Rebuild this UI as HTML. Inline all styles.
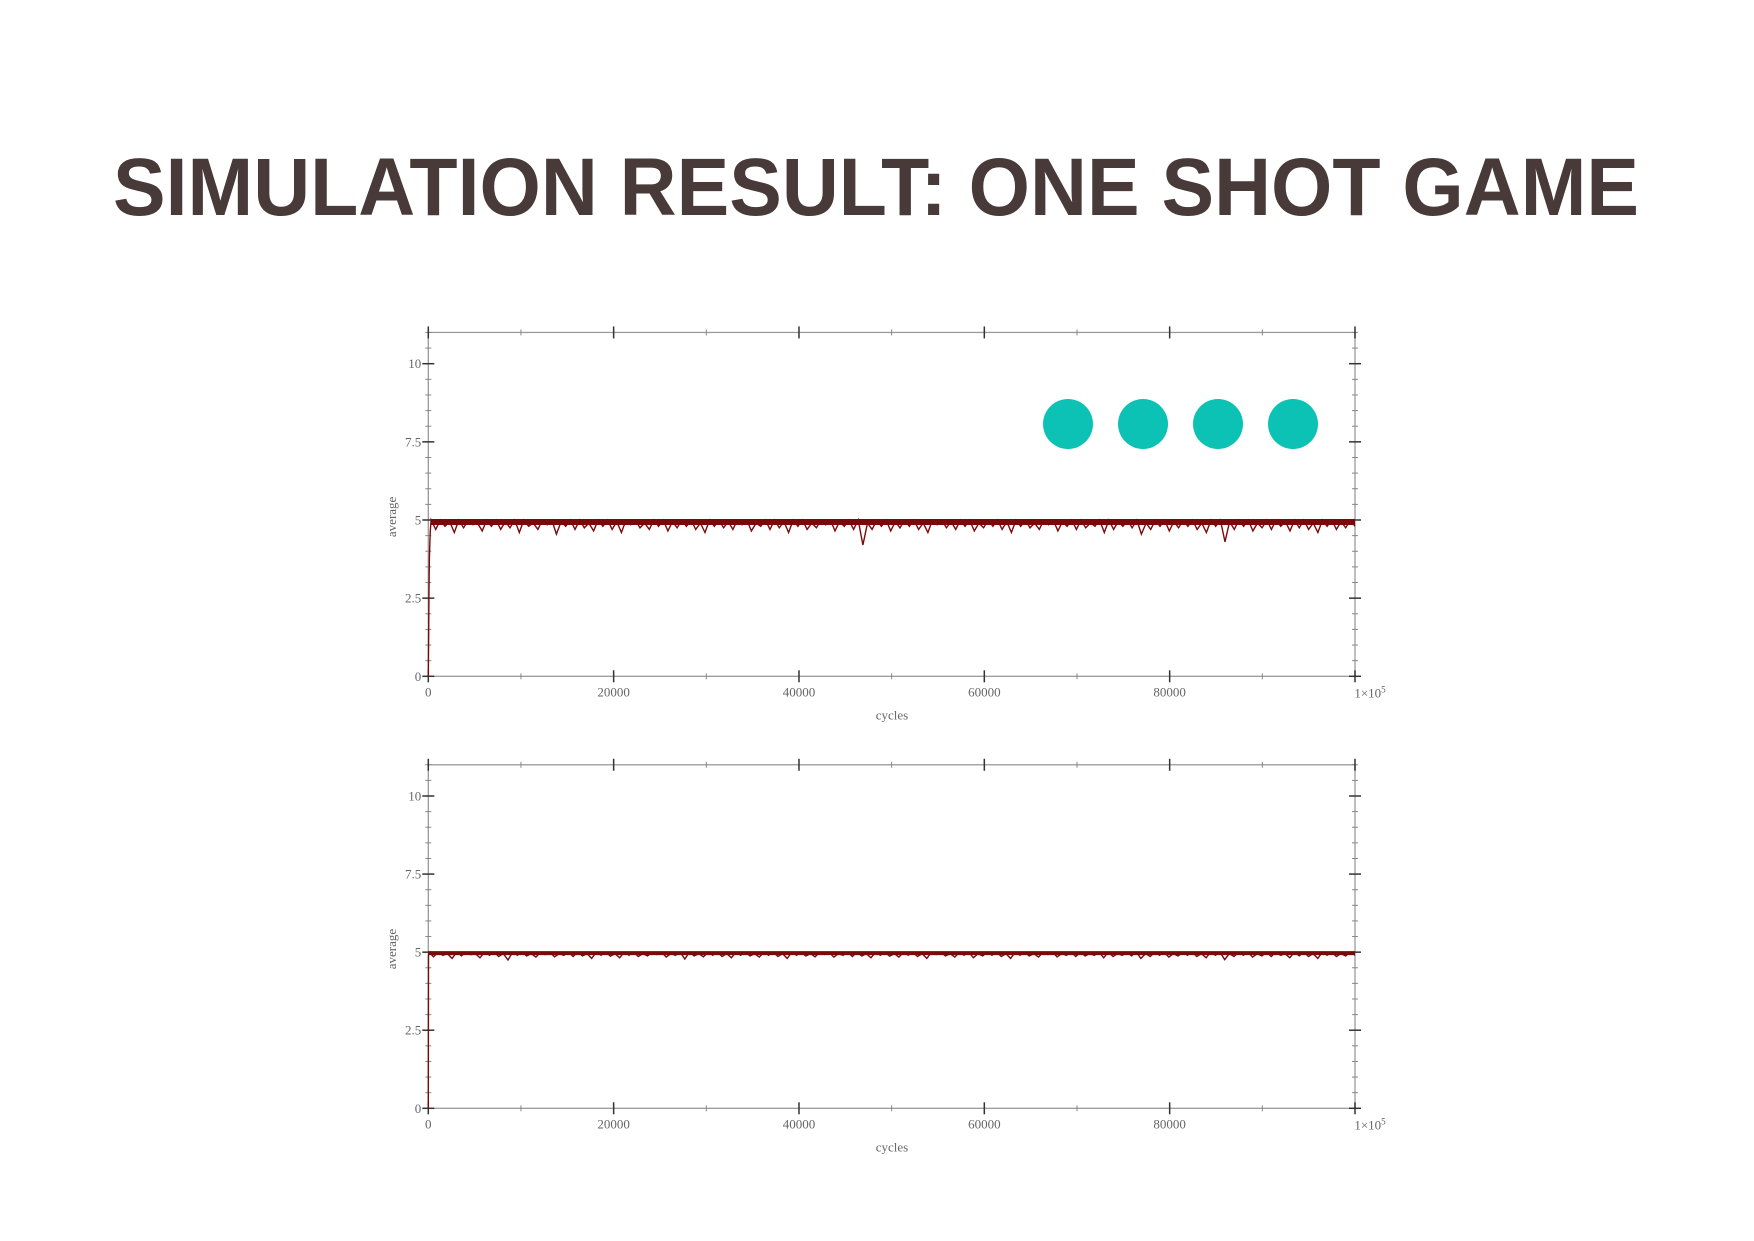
<!DOCTYPE html>
<html><head><meta charset="utf-8"><style>
html,body{margin:0;padding:0;background:#fff;}
svg{display:block;}
</style></head><body>
<svg id="root" width="1754" height="1241" viewBox="0 0 1754 1241" xmlns="http://www.w3.org/2000/svg">
<text x="113" y="215" font-family="Liberation Sans, sans-serif" font-weight="bold" font-size="82" fill="#473a38" textLength="1526" lengthAdjust="spacingAndGlyphs">SIMULATION RESULT: ONE SHOT GAME</text>
<g>
<circle cx="1068" cy="424" r="25" fill="#0cc2b4"/>
<circle cx="1143" cy="424" r="25" fill="#0cc2b4"/>
<circle cx="1218" cy="424" r="25" fill="#0cc2b4"/>
<circle cx="1293" cy="424" r="25" fill="#0cc2b4"/>
</g>
</svg>
<script>
// ---- data ----
const xTickValues = [0, 20000, 40000, 60000, 80000];
const xTickLabels = ["0", "20000", "40000", "60000", "80000"];
const yTickValues = [0, 2.5, 5, 7.5, 10];
const yTickLabels = ["0", "2.5", "5", "7.5", "10"];
const sampleStep = 500;
const topEarlyCycles = [0, 40, 80, 120, 200, 300];
const topEarlyValues = [0, 1.5, 2.8, 3.8, 4.6, 5];
const topValues = [
5,4.7,5,4.8,4.95,4.6,5,4.75,5,4.85,4.9,4.65,5,4.8,5,4.7,4.95,4.75,5,4.6,
5,4.8,4.9,4.7,5,4.85,5,4.55,4.95,4.8,5,4.7,5,4.75,4.9,4.65,5,4.8,5,4.7,
4.95,4.6,5,4.85,5,4.75,4.9,4.7,5,4.8,5,4.65,4.95,4.75,5,4.8,5,4.7,4.9,4.6,
5,4.8,5,4.75,4.95,4.7,5,4.85,5,4.65,4.9,4.8,5,4.7,5,4.75,4.95,4.6,5,4.8,
5,4.7,4.9,4.75,5,4.85,5,4.65,4.95,4.8,5,4.7,5,4.2,4.9,4.7,5,4.8,5,4.65,
4.95,4.75,5,4.8,5,4.7,4.9,4.6,5,4.85,5,4.75,4.95,4.7,5,4.8,5,4.65,4.9,4.75,
5,4.8,5,4.7,4.95,4.6,5,4.8,5,4.75,4.9,4.7,5,4.85,5,4.65,4.95,4.8,5,4.7,
5,4.75,4.9,4.8,5,4.6,5,4.7,4.95,4.8,5,4.75,5,4.55,4.9,4.7,5,4.8,5,4.65,
4.95,4.75,5,4.8,5,4.7,4.9,4.6,5,4.8,5,4.3,4.95,4.7,5,4.8,5,4.65,4.9,4.75,
5,4.7,5,4.8,4.95,4.65,5,4.75,5,4.7,4.9,4.6,5,4.8,5,4.7,4.95,4.75,5,4.8];
const bottomEarlyCycles = [0, 20, 60];
const bottomEarlyValues = [0, 4.9, 5];
const bottomValues = [
5,4.85,5,4.9,4.95,4.8,5,4.88,5,4.92,4.95,4.82,5,4.9,5,4.86,4.95,4.75,5,4.9,
5,4.88,4.95,4.84,5,4.92,5,4.85,4.95,4.9,5,4.86,5,4.88,4.95,4.8,5,4.9,5,4.87,
4.95,4.82,5,4.9,5,4.86,4.95,4.88,5,4.92,5,4.84,4.95,4.9,5,4.78,5,4.88,4.95,4.85,
5,4.9,5,4.86,4.95,4.82,5,4.9,5,4.88,4.95,4.84,5,4.9,5,4.86,4.95,4.8,5,4.9,
5,4.88,4.95,4.85,5,4.92,5,4.84,4.95,4.9,5,4.86,5,4.88,4.95,4.82,5,4.9,5,4.87,
4.95,4.84,5,4.9,5,4.86,4.95,4.8,5,4.92,5,4.88,4.95,4.84,5,4.9,5,4.82,4.95,4.88,
5,4.9,5,4.86,4.95,4.8,5,4.9,5,4.88,4.95,4.84,5,4.92,5,4.85,4.95,4.9,5,4.86,
5,4.88,4.95,4.9,5,4.82,5,4.86,4.95,4.9,5,4.88,5,4.8,4.95,4.86,5,4.9,5,4.84,
4.95,4.88,5,4.9,5,4.86,4.95,4.82,5,4.9,5,4.76,4.95,4.86,5,4.9,5,4.84,4.95,4.88,
5,4.86,5,4.9,4.95,4.82,5,4.88,5,4.86,4.95,4.8,5,4.9,5,4.86,4.95,4.88,5,4.9];

const NS = "http://www.w3.org/2000/svg";
const root = document.getElementById('root');
function mk(tag, attrs, parent) {
  const e = document.createElementNS(NS, tag);
  for (const k in attrs) e.setAttribute(k, attrs[k]);
  parent.appendChild(e);
  return e;
}
function drawChart(name, y0px, y10px, earlyC, earlyV, vals, bandW) {
  const X0 = 428.3, X1 = 1355;
  const xS = c => X0 + (X1 - X0) * c / 100000;
  const yS = v => y0px + (y10px - y0px) * v / 10;
  const yTop = yS(11);
  const g = mk('g', {}, root);
  
  
  const frame = mk('rect', {x: X0, y: yTop, width: X1 - X0, height: y0px - yTop, fill: 'none', stroke: '#9a9a9a', 'stroke-width': 1.3}, g);
  
  
  for (let i = 0; i <= 22; i++) {
    const v = i * 0.5, y = yS(v);
    const major = (i % 5 === 0);
    const len = major ? 6 : 3;
    [X0, X1].forEach(x => {
      const t = mk('line', {x1: x - len, x2: x + len, y1: y, y2: y, stroke: major ? '#333' : '#888', 'stroke-width': major ? 1.5 : 1}, g);
      
      
    });
  }
  yTickValues.forEach((v, i) => {
    const t = mk('text', {x: X0 - 7, y: yS(v) + 4.5, 'text-anchor': 'end', 'font-family': 'Liberation Serif, serif', 'font-size': 13, fill: '#666'}, g);
    t.textContent = yTickLabels[i];
    
    
  });
  for (let c = 0; c <= 100000; c += 10000) {
    const major = (c % 20000 === 0) || c === 100000;
    const len = major ? 6 : 3;
    [y0px, yTop].forEach(y => {
      const t = mk('line', {x1: xS(c), x2: xS(c), y1: y - len, y2: y + len, stroke: major ? '#333' : '#888', 'stroke-width': major ? 1.5 : 1}, g);
      
      
    });
  }
  xTickValues.forEach((v, i) => {
    const t = mk('text', {x: xS(v), y: y0px + 20, 'text-anchor': 'middle', 'font-family': 'Liberation Serif, serif', 'font-size': 13, fill: '#666'}, g);
    t.textContent = xTickLabels[i];
    
    
  });
  const last = mk('text', {x: xS(100000) + 15, y: y0px + 21, 'text-anchor': 'middle', 'font-family': 'Liberation Serif, serif', 'font-size': 13, fill: '#666'}, g);
  last.innerHTML = '1×10<tspan dy="-5" font-size="9">5</tspan>';
  
  
  const xt = mk('text', {x: 892, y: y0px + 43, 'text-anchor': 'middle', 'font-family': 'Liberation Serif, serif', 'font-size': 13, fill: '#666'}, g);
  xt.textContent = 'cycles';
  
  
  const yc = yS(5.1);
  const yt = mk('text', {x: 396, y: yc, 'text-anchor': 'middle', 'font-family': 'Liberation Serif, serif', 'font-size': 13, fill: '#666', transform: 'rotate(-90 396 ' + yc + ')'}, g);
  yt.textContent = 'average';
  
  
  const pts = [];
  earlyC.forEach((c, i) => pts.push(xS(c).toFixed(1) + ',' + yS(earlyV[i]).toFixed(1)));
  const startC = earlyC[earlyC.length - 1];
  vals.forEach((v, i) => pts.push(xS(startC + i * (100000 - startC) / (vals.length - 1)).toFixed(1) + ',' + yS(v).toFixed(1)));
  const line = mk('polyline', {points: pts.join(' '), fill: 'none', stroke: '#7a0a0a', 'stroke-width': 1.4, 'stroke-linejoin': 'miter'}, g);
  
  
  const cy = yS(5) + bandW / 2 - 1;
  const cap = mk('line', {x1: xS(startC), x2: X1, y1: cy, y2: cy, stroke: '#7a0a0a', 'stroke-width': bandW}, g);
  
  
}
drawChart('top-chart', 676.3, 363.7, topEarlyCycles, topEarlyValues, topValues, 6);
drawChart('bottom-chart', 1108.3, 796, bottomEarlyCycles, bottomEarlyValues, bottomValues, 4);
</script>
</body></html>
